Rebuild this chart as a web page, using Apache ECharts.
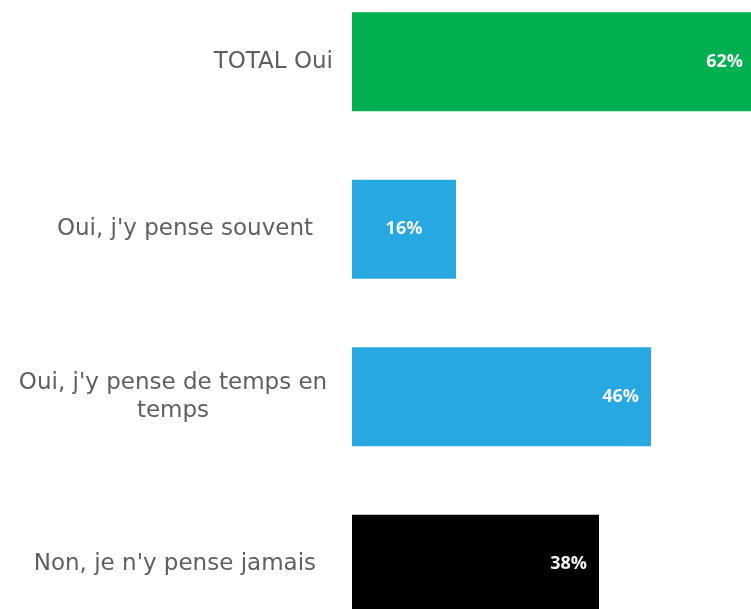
<!DOCTYPE html>
<html>
<head>
<meta charset="utf-8">
<script src="https://cdn.jsdelivr.net/npm/echarts@6/dist/echarts.min.js"></script>
<style>
  html, body { margin: 0; padding: 0; background: #fff; }
  #chart { width: 751px; height: 609px; }
</style>
</head>
<body>
<div id="chart"></div>
<script>
// categories and values
var categories = [
    'TOTAL Oui',
    'Oui, j\'y pense souvent',
    'Oui, j\'y pense de temps en\ntemps',
    'Non, je n\'y pense jamais'
];
var values = [62, 16, 46, 38];
var barColors = ['#00b050', '#27a8e0', '#27a8e0', '#000000'];

var chart = echarts.init(document.getElementById('chart'));

var labelFont = { fontFamily: 'DejaVu Sans', fontSize: 23, color: '#5f5f5f' };

var option = {
    animation: false,
    grid: { left: 352, right: -4, top: -22, bottom: -39, outerBoundsMode: 'none' },
    xAxis: {
        type: 'value',
        min: 0,
        max: 62,
        show: false
    },
    yAxis: {
        type: 'category',
        inverse: true,
        data: categories,
        axisLine: { show: false },
        axisTick: { show: false },
        axisLabel: {
            margin: 19,
            formatter: function (value, index) {
                return value.split('\n').map(function (line) {
                    return '{c' + index + '|' + line + '}';
                }).join('\n');
            },
            rich: {
                c0: Object.assign({ padding: [0, 0, 0, 0] }, labelFont),
                c1: Object.assign({ padding: [0, 20, 0, 0] }, labelFont),
                c2: Object.assign({ width: 320, align: 'center', lineHeight: 28 }, labelFont),
                c3: Object.assign({ padding: [0, 17, 0, 0] }, labelFont)
            }
        }
    },
    series: [{
        type: 'bar',
        barWidth: 99,
        data: values.map(function (v, i) {
            return {
                value: v,
                itemStyle: { color: barColors[i] },
                label: v < 20 ? { position: 'inside' } : {}
            };
        }),
        label: {
            show: true,
            position: 'insideRight',
            distance: 12,
            formatter: '{c}%',
            color: '#f4f4f4',
            fontFamily: 'Open Sans',
            fontWeight: 'bold',
            fontSize: 18
        }
    }]
};

chart.setOption(option);
</script>
</body>
</html>
